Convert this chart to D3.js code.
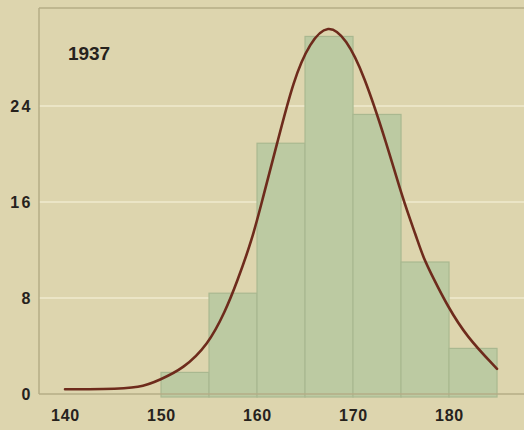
<!DOCTYPE html>
<html>
<head>
<meta charset="utf-8">
<script src="https://cdn.jsdelivr.net/npm/d3@7"></script>
<style>
  html, body { margin: 0; padding: 0; background: #ddd5ae; }
  svg { display: block; }
  .tick text { font-family: 'Liberation Sans', Arial, sans-serif; font-weight: bold; fill: #26221d; }
</style>
</head>
<body>
<div id="chart"></div>
<script>
// histogram bins (height in cm, start of 5 cm class) and share of people (%)
const binStarts = [150, 155, 160, 165, 170, 175, 180];
const binWidth = 5;
const binValues = [1.8, 8.4, 20.9, 29.8, 23.3, 11.0, 3.8];

// fitted curve
const curveX = [140, 144, 147.9, 149.9, 152.3, 154.9, 156.7, 157.9, 159.5, 160.5, 162.1, 163.8, 165.5, 167.4, 169.3, 171.1, 173.5, 175.2, 176.6, 177.3, 178.4, 179.8, 181.8, 185];
const curveY = [0.4, 0.4, 0.5, 1.2, 2.1, 4.1, 6.9, 9.3, 12.9, 16.0, 20.9, 26.2, 29.3, 30.9, 29.6, 26.7, 20.9, 16.2, 13.1, 11.4, 9.6, 7.4, 4.8, 2.1];

const xTicks = [140, 150, 160, 170, 180];
const yTicks = [0, 8, 16, 24];
const yearLabel = '1937';

(function(){
    const W = 524, H = 430;
    const margin = { top: 8, right: 0, bottom: 36, left: 39 };
    const width = W - margin.left - margin.right;
    const height = H - margin.top - margin.bottom;

    const svg = d3.select('#chart')
        .append('svg')
            .attr('width', W)
            .attr('height', H);

    svg.append('rect')
        .attr('width', W)
        .attr('height', H)
        .style('fill', '#ddd5ae');

    const g = svg.append('g')
        .attr('transform', `translate(${margin.left}, ${margin.top})`);

    const xScale = d3.scaleLinear()
        .domain([137.29, 187.81])
        .range([0, width]);

    const yScale = d3.scaleLinear()
        .domain([0, 32.17])
        .range([height, 0]);

    // light grid lines
    g.selectAll('.grid')
        .data(yTicks.filter(d => d > 0))
        .enter()
        .append('line')
            .attr('class', 'grid')
            .attr('x1', 0)
            .attr('x2', width)
            .attr('y1', d => yScale(d))
            .attr('y2', d => yScale(d))
            .style('stroke', '#ebe5c6')
            .style('stroke-width', 2);

    // frame: top and left
    g.append('line')
        .attr('x1', 0).attr('x2', width)
        .attr('y1', 0).attr('y2', 0)
        .style('stroke', '#b4ad86')
        .style('stroke-width', 1.5);
    g.append('line')
        .attr('x1', 0).attr('x2', 0)
        .attr('y1', 0).attr('y2', height)
        .style('stroke', '#b4ad86')
        .style('stroke-width', 1.5);

    // bars
    g.selectAll('.bar')
        .data(binValues)
        .enter()
        .append('rect')
            .attr('class', 'bar')
            .attr('x', (d, i) => xScale(binStarts[i]))
            .attr('y', d => yScale(d))
            .attr('width', (d, i) => xScale(binStarts[i] + binWidth) - xScale(binStarts[i]))
            .attr('height', d => height - yScale(d) + 3)
            .style('fill', '#bccaa2')
            .style('stroke', '#a9b890')
            .style('stroke-width', 1.2);

    // baseline
    g.append('line')
        .attr('x1', 0).attr('x2', width)
        .attr('y1', height).attr('y2', height)
        .style('stroke', '#b4ad86')
        .style('stroke-width', 1.5);

    // curve
    const line = d3.line()
        .x((d, i) => xScale(curveX[i]))
        .y(d => yScale(d))
        .curve(d3.curveBasis);

    g.append('path')
        .datum(curveY)
        .attr('d', line)
        .style('fill', 'none')
        .style('stroke', '#6e2b1c')
        .style('stroke-width', 2.6)
        .style('stroke-linecap', 'round');

    // axes
    const xAxis = g.append('g')
        .attr('transform', `translate(0, ${height})`)
        .call(d3.axisBottom(xScale).tickValues(xTicks).tickSize(0).tickPadding(16));
    xAxis.select('.domain').remove();
    xAxis.selectAll('text')
        .style('font-size', '16px')
        .style('letter-spacing', '0.8px');

    const yAxis = g.append('g')
        .call(d3.axisLeft(yScale).tickValues(yTicks).tickSize(0).tickPadding(6));
    yAxis.select('.domain').remove();
    yAxis.selectAll('text')
        .style('font-size', '16px')
        .style('letter-spacing', '2.5px');

    g.append('text')
        .attr('x', xScale(140.3))
        .attr('y', yScale(27.8))
        .style('font-family', "'Liberation Sans', Arial, sans-serif")
        .style('font-weight', 'bold')
        .style('font-size', '19px')
        .style('fill', '#26221d')
        .text(yearLabel);
}())
</script>
</body>
</html>
